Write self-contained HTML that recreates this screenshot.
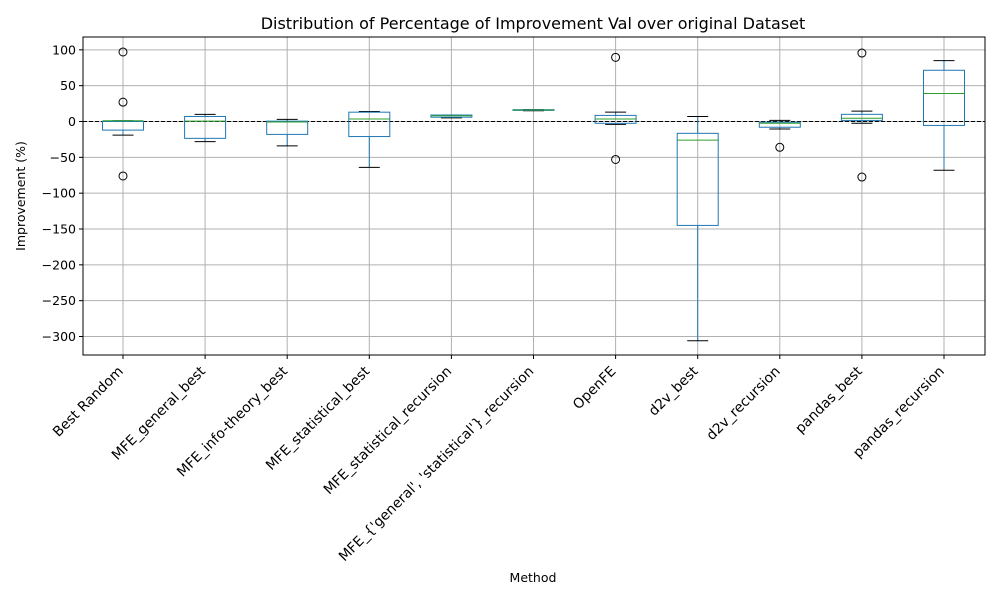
<!DOCTYPE html>
<html><head><meta charset="utf-8"><style>
body{margin:0;background:#fff;}
svg{font-family:"DejaVu Sans","Liberation Sans",sans-serif;}
</style></head><body>
<svg id="chart" width="1000" height="600" xmlns="http://www.w3.org/2000/svg"></svg>
<script>
const categories=["Best Random","MFE_general_best","MFE_info-theory_best","MFE_statistical_best","MFE_statistical_recursion","MFE_{'general', 'statistical'}_recursion","OpenFE","d2v_best","d2v_recursion","pandas_best","pandas_recursion"];
const whiskerLow=[-19,-28,-34,-64,5,15,-4,-306,-10.5,-2.5,-68];
const q1=[-12,-23.5,-18,-21,6,15.5,-2.5,-145,-8,1.5,-5.5];
const medians=[1,0.5,-0.7,3.5,8,16,3.5,-26,-2.5,4.5,39];
const q3=[0,7,0.5,13,9,16.5,8.5,-16.5,-1,10,71.5];
const whiskerHigh=[1,10,3,14,9,16.5,13,7,1.5,14.5,85];
const outliers=[[97,27,-76],[],[],[],[],[],[89.5,-53],[],[-36],[95.5,-77.5],[]];
const yTicks=[100,50,0,-50,-100,-150,-200,-250,-300];

const svg=document.getElementById('chart');
const NS='http://www.w3.org/2000/svg';
const L=83,R=985,T=37,B=355;
const y=v=>121.5-v*0.71667;
const x=i=>123+i*((944-123)/10);
function mk(tag,attrs,parent){const e=document.createElementNS(NS,tag);for(const k in attrs)e.setAttribute(k,attrs[k]);(parent||svg).appendChild(e);return e;}

yTicks.forEach(t=>{const g=mk('line',{x1:L,x2:R,y1:y(t),y2:y(t),stroke:'#b0b0b0','stroke-width':1});


const tk=mk('line',{x1:L-4,x2:L,y1:y(t),y2:y(t),stroke:'#000'});


const lb=mk('text',{x:L-7,y:y(t)+4.5,'text-anchor':'end','font-size':12.5,fill:'#000'});lb.textContent=(t<0?'\u2212'+(-t):t);


});
categories.forEach((c,i)=>{const g=mk('line',{x1:x(i),x2:x(i),y1:T,y2:B,stroke:'#b0b0b0','stroke-width':1});


const tk=mk('line',{x1:x(i),x2:x(i),y1:B,y2:B+4,stroke:'#000'});


const lb=mk('text',{x:0,y:0,'text-anchor':'end','font-size':13.9,fill:'#000',transform:`translate(${x(i)+1},${B+17}) rotate(-45)`});lb.textContent=c;


});
const z=mk('line',{x1:L,x2:R,y1:y(0),y2:y(0),stroke:'#000','stroke-width':0.9,'stroke-dasharray':'4,2'});


const bw=41,cw=21,blue='#1f77b4';
categories.forEach((c,i)=>{
 const g=mk('g',{});
 
 
 const cx=x(i);
 mk('line',{x1:cx,x2:cx,y1:y(q1[i]),y2:y(whiskerLow[i]),stroke:blue},g);
 mk('line',{x1:cx,x2:cx,y1:y(q3[i]),y2:y(whiskerHigh[i]),stroke:blue},g);
 mk('line',{x1:cx-cw/2,x2:cx+cw/2,y1:y(whiskerLow[i]),y2:y(whiskerLow[i]),stroke:'#000'},g);
 mk('line',{x1:cx-cw/2,x2:cx+cw/2,y1:y(whiskerHigh[i]),y2:y(whiskerHigh[i]),stroke:'#000'},g);
 mk('rect',{x:cx-bw/2,y:y(q3[i]),width:bw,height:Math.max(0.5,y(q1[i])-y(q3[i])),fill:'none',stroke:blue},g);
 mk('line',{x1:cx-bw/2,x2:cx+bw/2,y1:y(medians[i]),y2:y(medians[i]),stroke:'#2ca02c'},g);
 outliers[i].forEach(o=>{const p=mk('circle',{cx:cx,cy:y(o),r:4,fill:'none',stroke:'#000'},g);
 
 });
});
const fr=mk('rect',{x:L,y:T,width:R-L,height:B-T,fill:'none',stroke:'#000','stroke-width':1});


const tt=mk('text',{x:533,y:29,'text-anchor':'middle','font-size':16,fill:'#000'});tt.textContent='Distribution of Percentage of Improvement Val over original Dataset';


const xt=mk('text',{x:533,y:582,'text-anchor':'middle','font-size':12.5,fill:'#000'});xt.textContent='Method';


const yt=mk('text',{x:0,y:0,'text-anchor':'middle','font-size':12.5,fill:'#000',transform:'translate(25,196) rotate(-90)'});yt.textContent='Improvement (%)';


</script>
</body></html>
